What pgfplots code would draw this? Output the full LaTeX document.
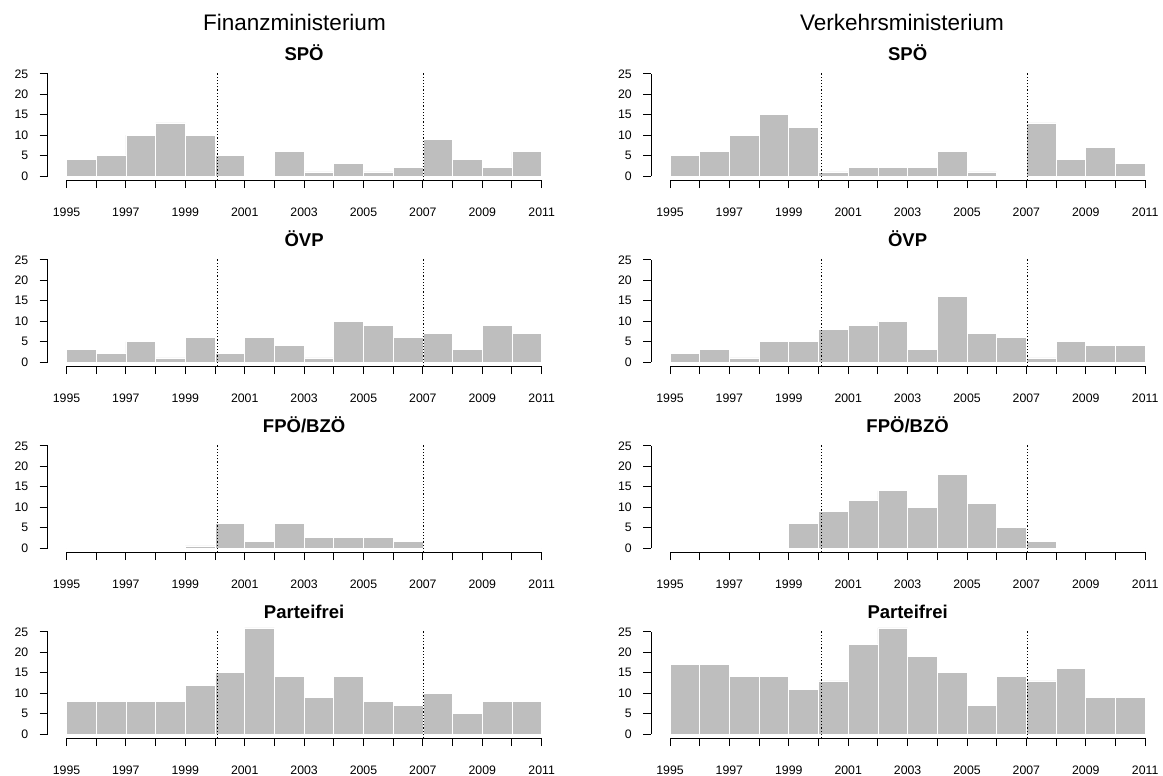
\documentclass[border=0pt]{standalone}
\usepackage{fontspec}
\setmainfont{Liberation Sans}
\usepackage{pgfplots}
\pgfplotsset{compat=1.18}
\definecolor{barcol}{HTML}{BEBEBE}
\pgfplotsset{
  panel/.style={
    scale only axis, width=513.2pt, height=110.2pt,
    xmin=1994.36, xmax=2011.64, ymin=-1, ymax=26,
    clip=false,
    axis line style={draw=none},
    tick align=outside, tick pos=left,
    xtick={1995,1997,...,2011},
    xticklabels={1995,1997,1999,2001,2003,2005,2007,2009,2011},
    minor xtick={1996,1998,...,2010},
    ytick={0,5,10,15,20,25},
    yticklabels={0,5,10,15,20,25},
    major tick length=8pt, minor tick length=8pt,
    every tick/.style={black, line width=1pt},
    tick label style={font=\fontsize{12.3}{14}\selectfont, inner sep=0pt},
    xticklabel style={anchor=center, yshift=-24pt},
    yticklabel style={anchor=east, xshift=-11pt},
    title style={font=\fontsize{18.5}{21}\selectfont\bfseries, at={(0.5,1)}, anchor=base, yshift=3.2pt, inner sep=0pt},
  }
}
\newcommand\panel[4]{%
\begin{axis}[panel, at={(#1pt,-#2pt)}, anchor=south west, title={#3}]
\addplot[ybar interval, fill=barcol, draw=white, line width=0.8pt] coordinates {#4};
\draw[line width=1pt] (axis cs:1994.36,0) -- (axis cs:1994.36,25);
\draw[line width=1pt] (axis cs:1995,-1) -- (axis cs:2011,-1);
\draw[line width=0.9pt, dash pattern=on 1.2pt off 2pt] (axis cs:2000.09,-1) -- (axis cs:2000.09,25.4);
\draw[line width=0.9pt, dash pattern=on 1.2pt off 2pt] (axis cs:2007.03,-1) -- (axis cs:2007.03,25.4);
\end{axis}}
\begin{document}
\begin{tikzpicture}
\useasboundingbox (0,0) rectangle (1163pt,-776pt);
\node[font=\fontsize{22.5}{26}\selectfont, anchor=base, inner sep=0pt] at (294.5pt,-30.7pt) {Finanzministerium};
\node[font=\fontsize{22.5}{26}\selectfont, anchor=base, inner sep=0pt] at (902pt,-30.7pt) {Verkehrsministerium};
% left column
\panel{47.5}{180.1}{SPÖ}{(1995,4) (1996,5) (1997,10) (1998,13) (1999,10) (2000,5) (2001,0) (2002,6) (2003,1) (2004,3) (2005,1) (2006,2) (2007,9) (2008,4) (2009,2) (2010,6) (2011,6)}
\panel{47.5}{366.1}{ÖVP}{(1995,3) (1996,2) (1997,5) (1998,1) (1999,6) (2000,2) (2001,6) (2002,4) (2003,1) (2004,10) (2005,9) (2006,6) (2007,7) (2008,3) (2009,9) (2010,7) (2011,7)}
\panel{47.5}{552.1}{FPÖ/BZÖ}{(1995,0) (1996,0) (1997,0) (1998,0) (1999,0.5) (2000,6) (2001,1.6) (2002,6) (2003,2.7) (2004,2.7) (2005,2.7) (2006,1.6) (2007,0) (2008,0) (2009,0) (2010,0) (2011,0)}
\panel{47.5}{738.1}{Parteifrei}{(1995,8) (1996,8) (1997,8) (1998,8) (1999,12) (2000,15) (2001,26) (2002,14) (2003,9) (2004,14) (2005,8) (2006,7) (2007,10) (2008,5) (2009,8) (2010,8) (2011,8)}
% right column
\panel{651}{180.1}{SPÖ}{(1995,5) (1996,6) (1997,10) (1998,15) (1999,12) (2000,1) (2001,2) (2002,2) (2003,2) (2004,6) (2005,1) (2006,0) (2007,13) (2008,4) (2009,7) (2010,3) (2011,3)}
\panel{651}{366.1}{ÖVP}{(1995,2) (1996,3) (1997,1) (1998,5) (1999,5) (2000,8) (2001,9) (2002,10) (2003,3) (2004,16) (2005,7) (2006,6) (2007,1) (2008,5) (2009,4) (2010,4) (2011,4)}
\panel{651}{552.1}{FPÖ/BZÖ}{(1995,0) (1996,0) (1997,0) (1998,0) (1999,6) (2000,9) (2001,11.7) (2002,14) (2003,10) (2004,18) (2005,11) (2006,5) (2007,1.6) (2008,0) (2009,0) (2010,0) (2011,0)}
\panel{651}{738.1}{Parteifrei}{(1995,17) (1996,17) (1997,14) (1998,14) (1999,11) (2000,13) (2001,22) (2002,26) (2003,19) (2004,15) (2005,7) (2006,14) (2007,13) (2008,16) (2009,9) (2010,9) (2011,9)}
\end{tikzpicture}
\end{document}
